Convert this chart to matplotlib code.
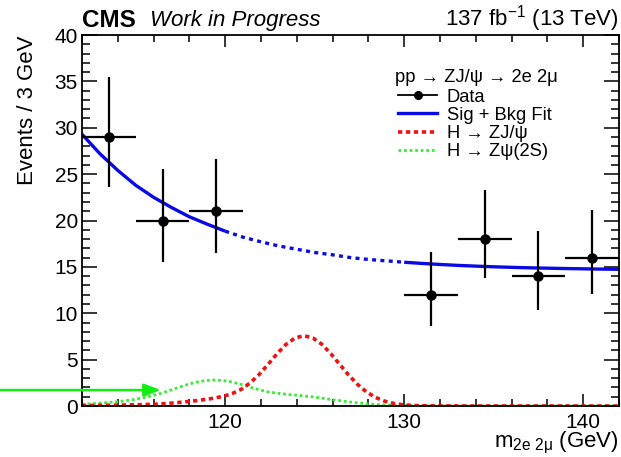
import matplotlib
matplotlib.use("Agg")
import matplotlib.pyplot as plt
from matplotlib.lines import Line2D
from matplotlib.ticker import MultipleLocator

plt.rcParams['font.family'] = ['Liberation Sans', 'DejaVu Sans']
plt.rcParams['mathtext.fontset'] = 'custom'
plt.rcParams['mathtext.rm'] = 'Liberation Sans'
plt.rcParams['mathtext.it'] = 'Liberation Sans:italic'

# data points (3 GeV bins), with asymmetric Poisson errors
data_x = [113.5, 116.5, 119.5, 131.5, 134.5, 137.5, 140.5]
data_y = [29, 20, 21, 12, 18, 14, 16]
data_lo = [5.35, 4.44, 4.55, 3.42, 4.20, 3.70, 3.96]
data_hi = [6.44, 5.55, 5.66, 4.60, 5.32, 4.85, 5.08]

# sig + bkg fit
fit_x = [112, 113, 114, 115, 116, 117, 118, 119, 120, 121, 122, 123, 124, 125,
         126, 127, 128, 129, 130, 131, 132, 133, 134, 135, 136, 137, 138, 139,
         140, 141, 142]
fit_y = [29.3, 27.2, 25.4, 23.8, 22.5, 21.4, 20.4, 19.6, 18.85, 18.2, 17.7,
         17.25, 16.9, 16.55, 16.3, 16.0, 15.8, 15.65, 15.5, 15.37, 15.26,
         15.16, 15.08, 15.01, 14.95, 14.9, 14.86, 14.82, 14.79, 14.76, 14.74]

# H -> Z J/psi
red_x = [112.0, 112.4, 112.9, 113.4, 113.9, 114.4, 114.9, 115.4, 115.9, 116.4,
         116.9, 117.4, 117.9, 118.4, 118.9, 119.4, 119.9, 120.4, 120.9, 121.4,
         121.9, 122.4, 122.9, 123.4, 123.9, 124.4, 124.9, 125.4, 125.9, 126.4,
         126.9, 127.4, 127.9, 128.4, 128.9, 129.4, 129.9, 130.4, 130.9, 131.4,
         132.0, 134.0, 137.0, 142.0]
red_y = [0.05, 0.06, 0.07, 0.08, 0.10, 0.11, 0.13, 0.15, 0.18, 0.22,
         0.30, 0.38, 0.48, 0.58, 0.70, 0.85, 1.05, 1.35, 1.80, 2.50,
         3.40, 4.50, 5.64, 6.65, 7.33, 7.58, 7.33, 6.65, 5.64, 4.48,
         3.33, 2.32, 1.51, 0.92, 0.53, 0.28, 0.14, 0.07, 0.03, 0.015,
         0.01, 0.0, 0.0, 0.0]

# H -> Z psi(2S)
green_x = [112.0, 112.4, 112.9, 113.4, 113.9, 114.4, 114.9, 115.4, 115.9, 116.4,
           116.9, 117.4, 117.9, 118.4, 118.9, 119.4, 119.9, 120.4, 120.9, 121.4,
           121.9, 122.4, 122.9, 123.4, 123.9, 124.4, 124.9, 125.4, 125.9, 126.4,
           126.9, 127.4, 127.9, 128.4, 128.9, 129.4, 129.9, 130.4, 131.0, 134.0,
           142.0]
green_y = [0.19, 0.23, 0.29, 0.36, 0.45, 0.56, 0.70, 0.88, 1.10, 1.36,
           1.68, 2.01, 2.32, 2.58, 2.74, 2.80, 2.74, 2.58, 2.33, 2.03,
           1.75, 1.52, 1.38, 1.27, 1.18, 1.08, 0.98, 0.85, 0.70, 0.58,
           0.45, 0.33, 0.24, 0.17, 0.11, 0.07, 0.05, 0.03, 0.02, 0.0,
           0.0]

legend_header = 'pp → ZJ/ψ → 2e 2μ'
legend_labels = ['Data', 'Sig + Bkg Fit', 'H → ZJ/ψ', 'H → Zψ(2S)']

blind_lo, blind_hi = 120, 130

W, H = 621, 457
fig = plt.figure(figsize=(W / 100, H / 100), dpi=100)
ax = fig.add_axes([82 / W, 51 / H, 537 / W, 371 / H])


def fx(px):
    return px / W


def fy(py):
    return 1 - py / H


blue = '#0a0ae6'
red = '#ee1111'
green = '#33ee33'
red_style = dict(color=red, lw=2.6, dashes=(1.2, 1.0))
green_style = dict(color=green, lw=2.0, dashes=(1, 1))

ax.plot(green_x, green_y, **green_style)
ax.plot(red_x, red_y, **red_style)

# fit: solid outside the blinded window, dotted inside
left = [(x, y) for x, y in zip(fit_x, fit_y) if x <= blind_lo]
mid = [(x, y) for x, y in zip(fit_x, fit_y) if blind_lo <= x <= blind_hi]
right = [(x, y) for x, y in zip(fit_x, fit_y) if x >= blind_hi]
for seg, style in [(left, '-'), (mid, ':'), (right, '-')]:
    xs, ys = zip(*seg)
    ln, = ax.plot(xs, ys, color=blue, lw=2.4, solid_capstyle='butt')
    if style == ':':
        ln.set_dashes((1.2, 1.3))

ax.errorbar(data_x, data_y, yerr=[data_lo, data_hi], xerr=1.5, fmt='o',
            color='k', ms=6.5, elinewidth=1.6, capsize=0, zorder=5)

# green arrow coming in from the left edge
ax.annotate('', xy=(116.4, 1.72), xytext=(0.0, 1.72),
            xycoords='data', textcoords=('figure fraction', 'data'),
            annotation_clip=False,
            arrowprops=dict(arrowstyle='-|>,head_length=1.0,head_width=0.38',
                            color='#11ee11', lw=1.8, shrinkA=0, shrinkB=0))

ax.set_xlim(112, 142)
ax.set_ylim(0, 40)
ax.xaxis.set_major_locator(MultipleLocator(10))
ax.xaxis.set_minor_locator(MultipleLocator(2))
ax.yaxis.set_major_locator(MultipleLocator(5))
ax.yaxis.set_minor_locator(MultipleLocator(1))
ax.tick_params(which='both', direction='in', top=True, right=True,
               labelsize=15, width=1.1)
ax.tick_params(axis='y', which='major', length=11, pad=3)
ax.tick_params(axis='y', which='minor', length=5.5)
ax.tick_params(axis='x', which='major', length=8.5, pad=5)
ax.tick_params(axis='x', which='minor', length=5)
for s in ax.spines.values():
    s.set_linewidth(1.3)

ax.set_ylabel('Events / 3 GeV', fontsize=16, loc='top')
ax.yaxis.set_label_coords(-0.082, 1.0)
ax.set_xlabel(r'm$_{\mathrm{2e\ 2\mu}}$ (GeV)', fontsize=16, loc='right')
ax.xaxis.set_label_coords(1.0, -0.065)

fig.text(fx(82), fy(27), 'CMS', fontsize=17.5, weight='bold', va='baseline')
fig.text(fx(150), fy(26), 'Work in Progress', fontsize=16, style='italic',
         va='baseline')
fig.text(fx(619), fy(26), r'137 fb$^{-1}$ (13 TeV)', fontsize=16,
         ha='right', va='baseline')

# legend, laid out by hand like the ROOT TLegend
leg_fs = 13.2
fig.text(fx(395), fy(82.5), legend_header, fontsize=leg_fs, va='baseline')
row_y = [95, 113.3, 131.7, 150]
handle_styles = [dict(color='k', lw=1.3), dict(color=blue, lw=2.4),
                 red_style, green_style]
for yy, lab, st in zip(row_y, legend_labels, handle_styles):
    fig.add_artist(Line2D([fx(398), fx(437)], [fy(yy), fy(yy)],
                          transform=fig.transFigure, **st))
    fig.text(fx(447), fy(yy + 6.5), lab, fontsize=leg_fs, va='baseline')
fig.add_artist(Line2D([fx(417.5)], [fy(row_y[0])], transform=fig.transFigure,
                      color='k', marker='o', ms=5.5, lw=0))

fig.savefig('out.png', dpi=100)
